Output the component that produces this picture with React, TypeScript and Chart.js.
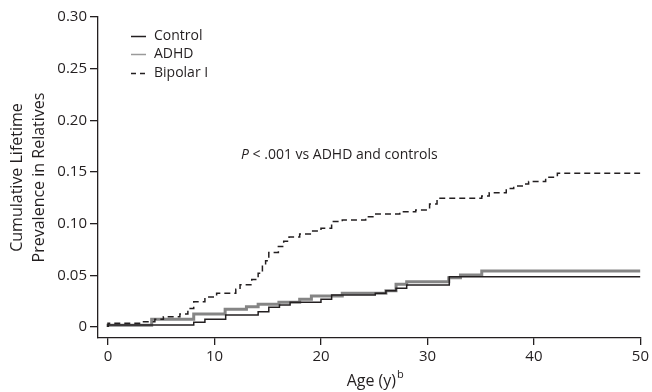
import { useEffect, useRef } from 'react';
import { Chart, registerables } from 'chart.js';

Chart.register(...registerables);

const xTicks = [0, 10, 20, 30, 40, 50];
const yTicks = [0, 0.05, 0.1, 0.15, 0.2, 0.25, 0.3];
const seriesNames = ['Control', 'ADHD', 'Bipolar I'];
const annotation = ['P', ' < .001 vs ADHD and controls'];
const xTitle = ['Age (y)', 'b'];
const yTitle = ['Cumulative Lifetime', 'Prevalence in Relatives'];

const controlAges = [0, 8.05, 9.1, 11.05, 14.1, 15.1, 16.1, 17.1, 20, 21, 25.1, 26.1, 27.05, 28.05, 32.05, 35.1, 50];
const controlRates = [0, 0.0019, 0.0045, 0.0075, 0.0116, 0.0148, 0.0191, 0.0213, 0.0239, 0.0268, 0.031, 0.0326, 0.0351, 0.0375, 0.0407, 0.0487, 0.0487];

const adhdAges = [0, 4.1, 8.05, 11, 13, 14.1, 16.05, 18, 19.1, 22, 26.1, 27.05, 28.05, 32, 33.1, 35.1, 37.05, 50];
const adhdRates = [0, 0.0016, 0.0075, 0.0126, 0.0171, 0.0197, 0.022, 0.0239, 0.0268, 0.03, 0.0326, 0.0351, 0.0413, 0.0439, 0.0477, 0.0503, 0.0542, 0.0542];

const bipolarAges = [0, 3.06, 4.4, 5.2, 6.75, 7.5, 8.05, 9.1, 10.2, 12, 12.4, 13.5, 14.1, 14.5, 14.8, 15.1, 16, 16.5, 17, 18, 19, 20, 21, 22, 24.2, 25, 27.4, 28.9, 30.2, 30.9, 35.1, 35.8, 37.4, 38.1, 38.9, 39.5, 41.1, 42.2, 43.9, 50];
const bipolarRates = [0, 0.0036, 0.0051, 0.0074, 0.01, 0.0126, 0.018, 0.0245, 0.029, 0.0326, 0.0365, 0.041, 0.046, 0.052, 0.06, 0.064, 0.072, 0.078, 0.083, 0.087, 0.09, 0.093, 0.0955, 0.102, 0.1036, 0.1068, 0.1094, 0.1116, 0.1133, 0.119, 0.1246, 0.1268, 0.13, 0.134, 0.1365, 0.1384, 0.1407, 0.145, 0.1488, 0.1488];

const FONT = '"Open Sans", "Noto Sans", sans-serif';
const TEXT = '#231f20';

const toPoints = (xs: number[], ys: number[]) => xs.map((x, i) => ({ x, y: ys[i] }));

const overlayPlugin = {
  id: 'overlayText',
  afterDraw(chart: any) {
    const ctx = chart.ctx as CanvasRenderingContext2D;
    ctx.save();
    ctx.fillStyle = TEXT;
    ctx.textBaseline = 'middle';
    ctx.textAlign = 'left';

    // legend
    const rowsY = [36, 54, 73];
    chart.data.datasets.forEach((ds: any, i: number) => {
      const y = rowsY[i];
      ctx.save();
      ctx.beginPath();
      ctx.strokeStyle = i === 1 ? '#9a9a9a' : TEXT;
      ctx.lineWidth = i === 1 ? 1.5 : 1.5;
      if (i === 2) ctx.setLineDash([5, 4]);
      ctx.moveTo(131, y + 0.5);
      ctx.lineTo(146, y + 0.5);
      ctx.stroke();
      ctx.restore();
      ctx.font = `14px ${FONT}`;
      ctx.fillText(ds.label, 154, y);
    });

    // annotation
    ctx.font = `italic 14px ${FONT}`;
    ctx.fillText(annotation[0], 241, 155);
    const wP = ctx.measureText(annotation[0]).width;
    ctx.font = `14px ${FONT}`;
    ctx.fillText(annotation[1], 241 + wP, 155);

    // x title with superscript
    ctx.font = `16px ${FONT}`;
    const w1 = ctx.measureText(xTitle[0]).width;
    ctx.font = `11px ${FONT}`;
    const w2 = ctx.measureText(xTitle[1]).width;
    const cx = (chart.chartArea.left + chart.chartArea.right) / 2 + 6;
    const sx = cx - (w1 + w2 + 1) / 2;
    ctx.font = `16px ${FONT}`;
    ctx.fillText(xTitle[0], sx, 381);
    ctx.font = `11px ${FONT}`;
    ctx.fillText(xTitle[1], sx + w1 + 1, 375);

    ctx.restore();
  },
};

export default function App() {
  const ref = useRef<HTMLCanvasElement | null>(null);
  useEffect(() => {
    if (!ref.current) return;
    const chart = new Chart(ref.current, {
      type: 'line',
      data: {
        datasets: [
          {
            label: seriesNames[0],
            data: toPoints(controlAges, controlRates),
            borderColor: TEXT,
            borderWidth: 1.5,
            stepped: 'after',
            pointRadius: 0,
            fill: false,
            order: 1,
          },
          {
            label: seriesNames[1],
            data: toPoints(adhdAges, adhdRates),
            borderColor: '#858585',
            borderWidth: 3,
            stepped: 'after',
            pointRadius: 0,
            fill: false,
            order: 2,
          },
          {
            label: seriesNames[2],
            data: toPoints(bipolarAges, bipolarRates),
            borderColor: TEXT,
            borderWidth: 1.5,
            borderDash: [6, 4],
            stepped: 'after',
            pointRadius: 0,
            fill: false,
            order: 0,
          },
        ],
      },
      options: {
        responsive: false,
        animation: false,
        maintainAspectRatio: false,
        layout: { padding: { left: 0, top: 17, right: 10, bottom: 0 } },
        plugins: { legend: { display: false }, tooltip: { enabled: false }, title: { display: false } },
        scales: {
          x: {
            type: 'linear',
            min: -0.94,
            max: 50,
            afterFit: (s: any) => { s.height = 54; },
            afterBuildTicks: (s: any) => { s.ticks = xTicks.map((v) => ({ value: v })); },
            grid: { drawOnChartArea: false, drawTicks: true, tickLength: 7, color: TEXT, lineWidth: 1.3 },
            border: { display: true, color: TEXT, width: 1.3 },
            ticks: { color: TEXT, font: { family: FONT, size: 15 }, padding: 3, maxRotation: 0, callback: (v: any) => String(v) },
          },
          y: {
            type: 'linear',
            min: -0.01065,
            max: 0.3,
            afterFit: (s: any) => { s.width = 98; },
            afterBuildTicks: (s: any) => { s.ticks = yTicks.map((v) => ({ value: v })); },
            grid: { drawOnChartArea: false, drawTicks: true, tickLength: 8, color: TEXT, lineWidth: 1.3 },
            border: { display: true, color: TEXT, width: 1.3 },
            ticks: { color: TEXT, font: { family: FONT, size: 15 }, padding: 3, callback: (v: any) => (v === 0 ? '0' : Number(v).toFixed(2)) },
            title: { display: true, text: yTitle, color: TEXT, font: { family: FONT, size: 16, lineHeight: 1.4 }, padding: { top: 6, bottom: 0 } },
          },
        },
      },
      plugins: [overlayPlugin],
    });
    return () => chart.destroy();
  }, []);
  return (
    <div style={{ position: 'fixed', left: 0, top: 0, width: 652, height: 392, background: '#fff' }}>
      <canvas ref={ref} width={652} height={392} style={{ display: 'block', width: 652, height: 392 }} />
    </div>
  );
}
